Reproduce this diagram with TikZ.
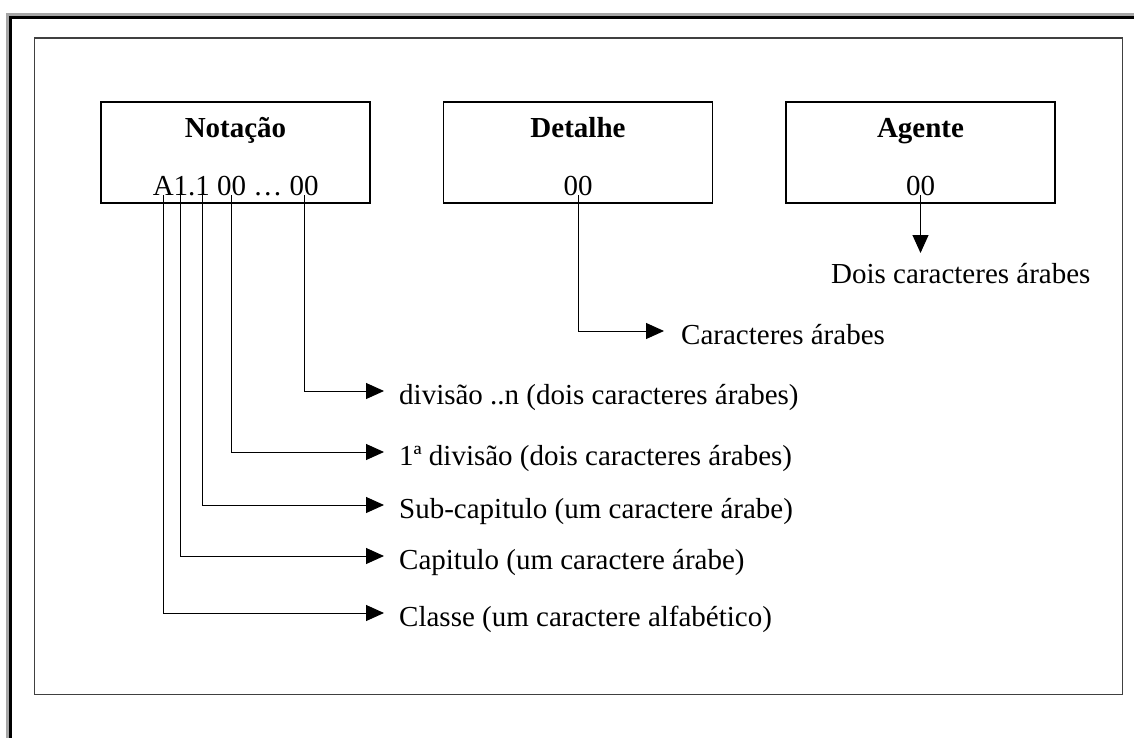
\documentclass[tikz,border=0pt]{standalone}
\usepackage{fontspec}
\setmainfont{Liberation Serif}
\usetikzlibrary{arrows.meta}
\begin{document}
\fontsize{29}{34}\selectfont
\begin{tikzpicture}[x=1pt,y=-1pt,
  frame/.style={draw=black!75,line width=1.5pt},
  card/.style={draw=black,line width=1.3pt,minimum width=269pt,minimum height=101pt,inner sep=0pt},
  ttl/.style={font=\bfseries,inner sep=0pt,anchor=base},
  code/.style={inner sep=0pt,outer sep=0pt,anchor=base},
  glyph/.style={inner sep=0pt,outer sep=0pt,anchor=base west},
  lbl/.style={inner sep=0pt,anchor=base west},
  link/.style={draw=black,line width=1pt},
  arr/.style={link,-{Triangle[length=18pt,width=16pt]}}
]
\useasboundingbox (0,0) rectangle (1134,738);
% page edge (grey and black strips, top and left)
\draw[black!35,line width=3pt] (7.5,738) -- (7.5,14.5) -- (1134,14.5);
\draw[black,line width=3pt] (10.5,738) -- (10.5,17.5) -- (1134,17.5);
% outer frame
\draw[frame] (34.5,38) rectangle (1122.5,694.5);

% the three fields
\node[card] (nota) at (235.5,152.5) {};
\node[card] (deta) at (578,152.5) {};
\node[card] (agen) at (920.5,152.5) {};

\node[ttl] (notaT) at (235.5,138) {Notação};
\node[ttl] (detaT) at (578,138) {Detalhe};
\node[ttl] (agenT) at (920.5,138) {Agente};

% notation code, built piece by piece so each part can be pointed at
\node[glyph] (cA) at (152.8,195) {A};
\node[glyph] (c1) at (cA.base east) {1};
\node[glyph] (cDot) at (c1.base east) {.};
\node[glyph] (c2) at (cDot.base east) {1};
\node[glyph] (c3) at ([xshift=7.25pt]c2.base east) {00};
\node[glyph] (cDots) at ([xshift=7.25pt]c3.base east) {…};
\node[glyph] (c4) at ([xshift=7.25pt]cDots.base east) {00};

\node[code] (d00) at (578,195) {00};
\node[code] (a00) at (920.5,195) {00};

% explanations
\node[lbl] (lDivN) at (399,404) {divisão ..n (dois caracteres árabes)};
\node[lbl] (lDiv1) at (399,465) {1ª divisão (dois caracteres árabes)};
\node[lbl] (lSub)  at (399,518) {Sub-capitulo (um caractere árabe)};
\node[lbl] (lCap)  at (399,569) {Capitulo (um caractere árabe)};
\node[lbl] (lCla)  at (399,626) {Classe (um caractere alfabético)};
\node[lbl] (lCar)  at (681,344) {Caracteres árabes};
\node[lbl] (lDois) at (831,283) {Dois caracteres árabes};
\coordinate (agTip) at (921,253);

% connectors
\draw[arr] (c4.south) |- ([xshift=-15pt,yshift=13pt]lDivN.base west);
\draw[arr] (c3.south) |- ([xshift=-15pt,yshift=13pt]lDiv1.base west);
\draw[arr] (c2.south) |- ([xshift=-15pt,yshift=13pt]lSub.base west);
\draw[arr] (c1.south) |- ([xshift=-15pt,yshift=13pt]lCap.base west);
\draw[arr] (cA.south) |- ([xshift=-15pt,yshift=13pt]lCla.base west);
\draw[arr] (d00.south) |- ([xshift=-17pt,yshift=13pt]lCar.base west);
\draw[arr] (a00.south) -- (a00.south |- agTip);
\end{tikzpicture}
\end{document}
